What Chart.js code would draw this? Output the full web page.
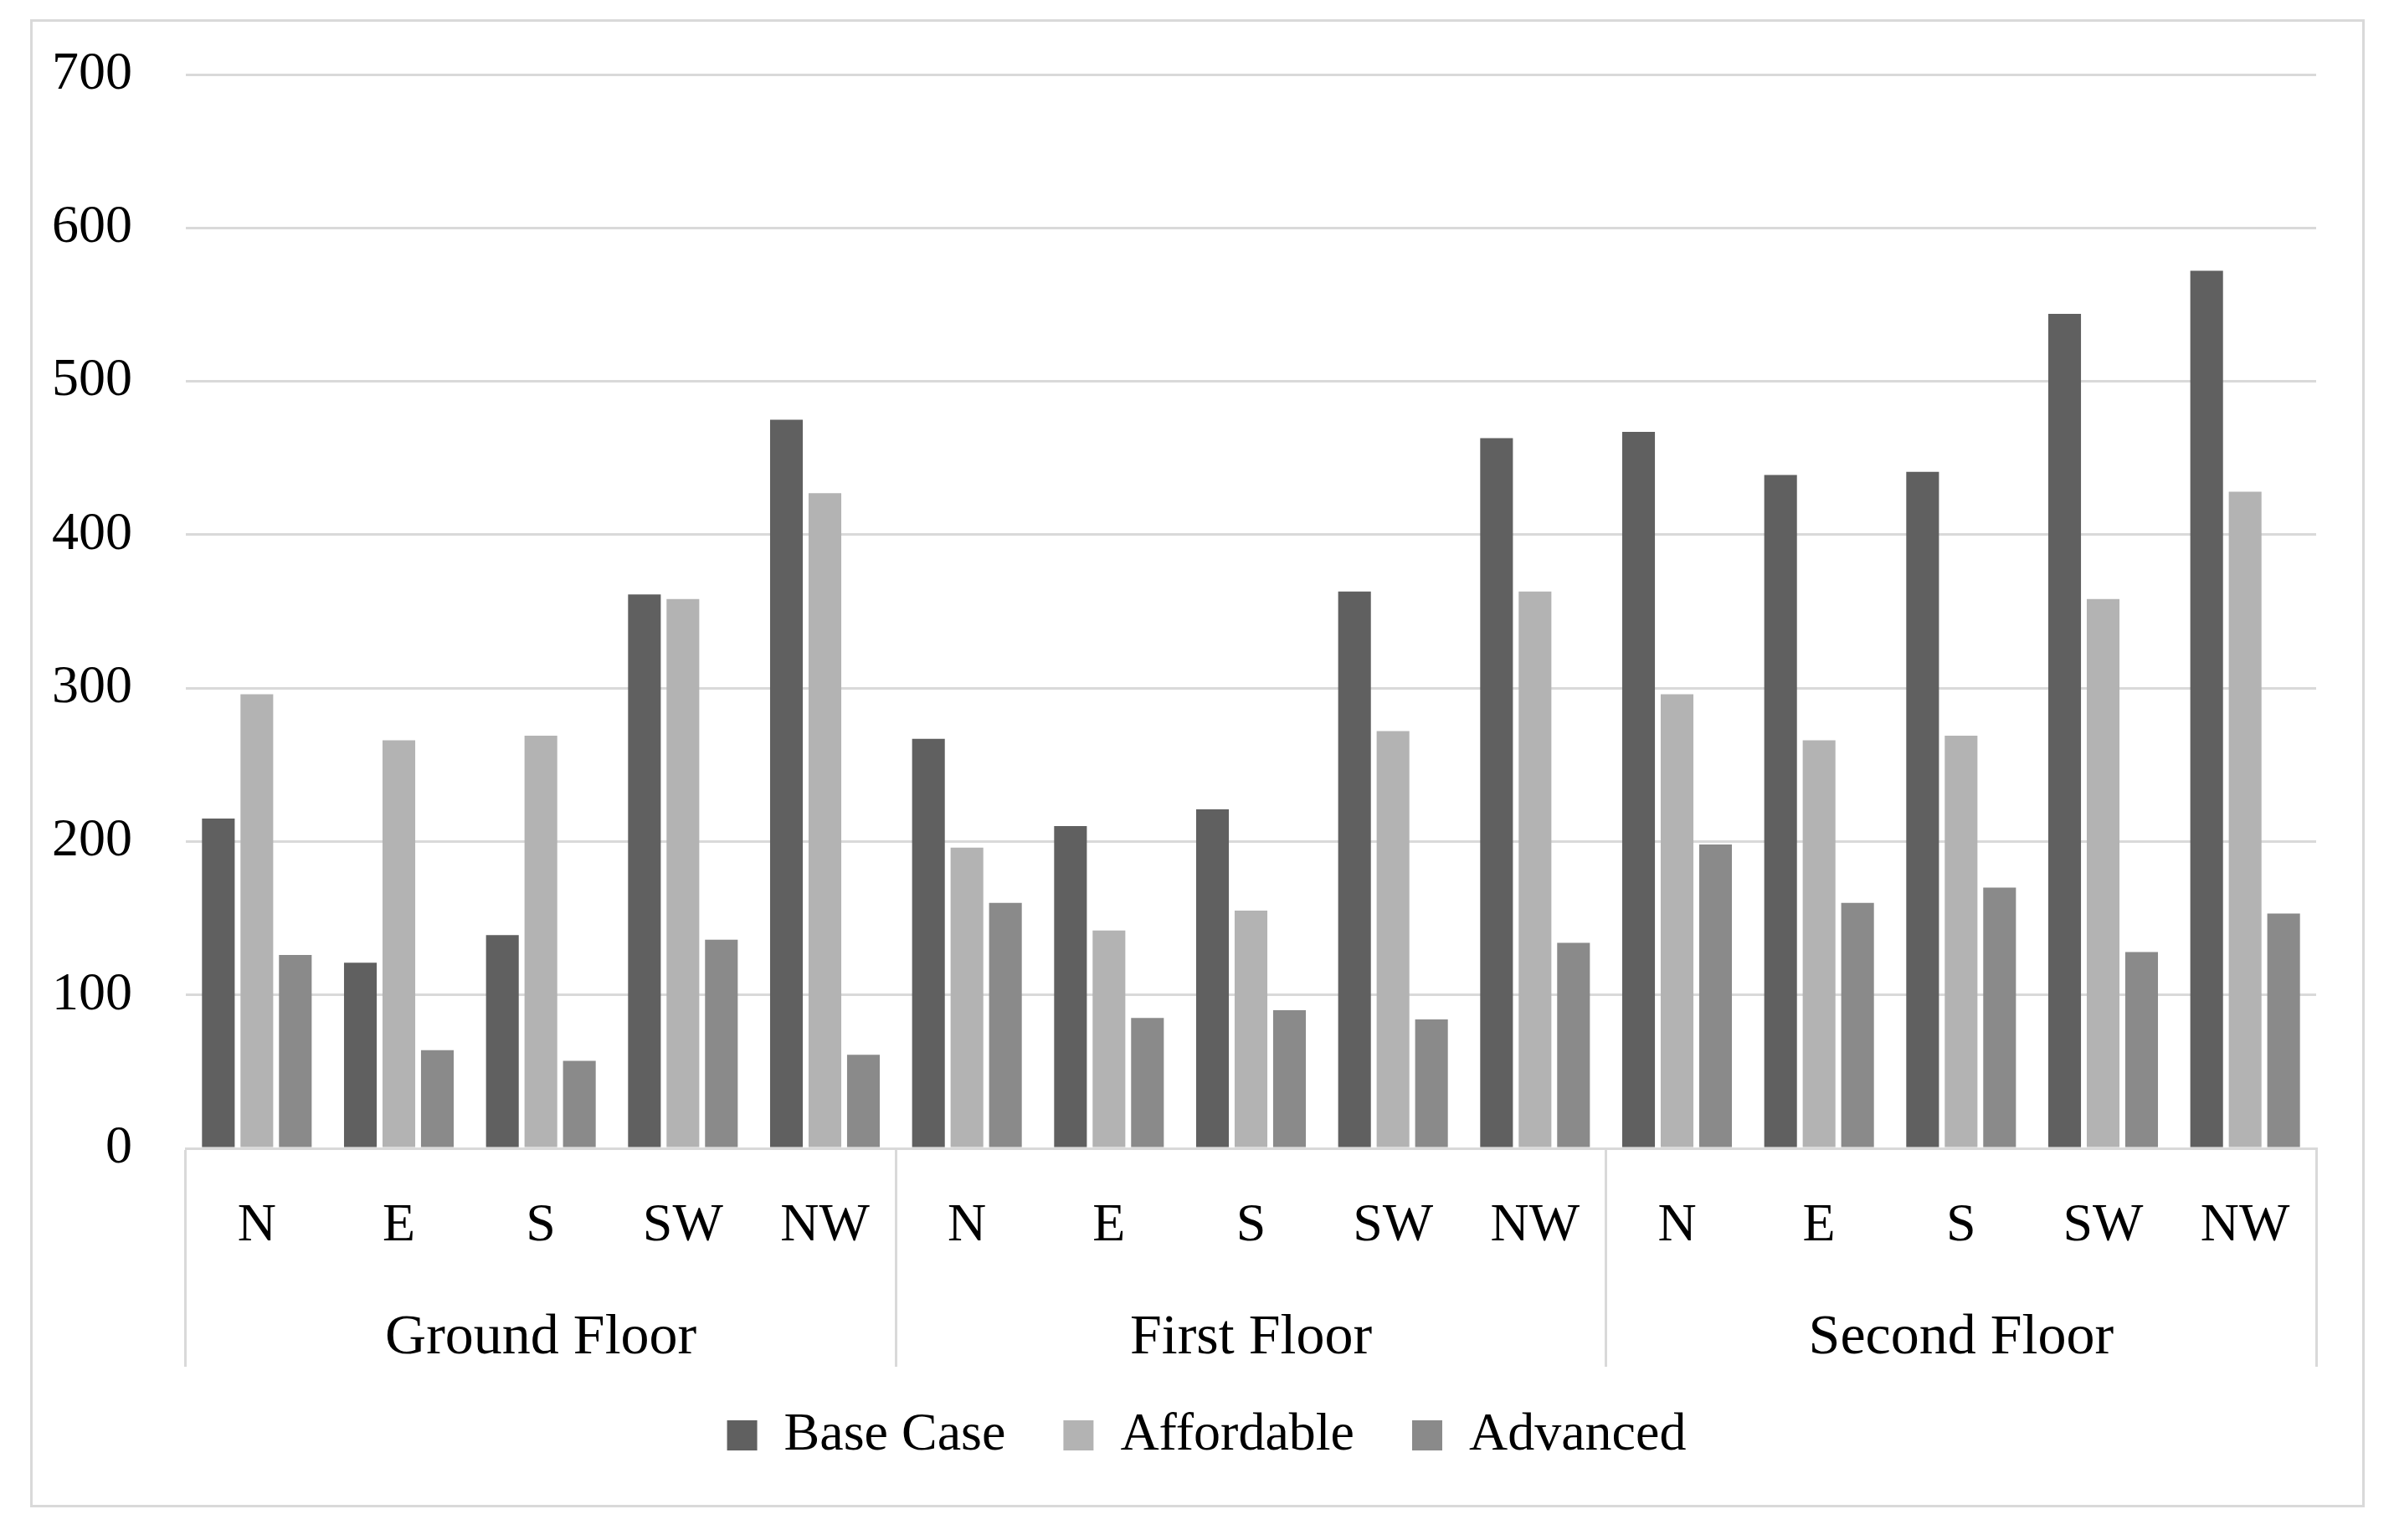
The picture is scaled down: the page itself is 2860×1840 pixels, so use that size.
<!DOCTYPE html>
<html>
<head>
<meta charset="utf-8">
<script src="https://cdn.jsdelivr.net/npm/chart.js@4/dist/chart.umd.min.js"></script>
<style>
  html, body { margin: 0; padding: 0; background: #fff; }
  #wrap { position: relative; width: 2860px; height: 1840px; }
  #frame {
    position: absolute; left: 36px; top: 23px; width: 2789px; height: 1778px;
    border: 3px solid #d9d9d9; box-sizing: border-box; pointer-events: none;
  }
  canvas { position: absolute; left: 0; top: 0; }
</style>
</head>
<body>
<div id="wrap">
  <div id="frame"></div>
  <canvas id="chart"></canvas>
</div>
<script>
  // Values
  const floors = ['Ground Floor', 'First Floor', 'Second Floor'];
  const orientations = ['N', 'E', 'S', 'SW', 'NW'];
  const yTicks = [0, 100, 200, 300, 400, 500, 600, 700];

  const baseCase   = [215, 121, 139, 361, 475,  267, 210, 221, 363, 463,  467, 439, 441, 544, 572];
  const affordable = [296, 266, 269, 358, 427,  196, 142, 155, 272, 363,  296, 266, 269, 358, 428];
  const advanced   = [126,  64,  57, 136,  61,  160,  85,  90,  84, 134,  198, 160, 170, 128, 153];

  const labels = [];
  floors.forEach(() => orientations.forEach(o => labels.push(o)));

  const FONT = 'Liberation Serif, Times New Roman, serif';
  const GRID = '#d9d9d9';
  const SEP_LEN = 261;
  const LEGEND_DX = 38;
  const LEGEND_DY = -10;

  // only every 5th boundary of the orientation axis gets a separator
  const isGroupEdge = ctx => ctx.index === undefined || ctx.index % orientations.length === 0;

  // nudge the legend so it sits where the original has it
  const legendShift = {
    id: 'legendShift',
    afterLayout(chart) {
      const lg = chart.legend;
      if (!lg) return;
      lg.left += LEGEND_DX;
      lg.right += LEGEND_DX;
      lg.top += LEGEND_DY;
      lg.bottom += LEGEND_DY;
    }
  };

  new Chart(document.getElementById('chart'), {
    type: 'bar',
    data: {
      labels: labels,
      datasets: [
        { label: 'Base Case', data: baseCase, backgroundColor: '#606060' },
        { label: 'Affordable', data: affordable, backgroundColor: '#b3b3b3' },
        { label: 'Advanced', data: advanced, backgroundColor: '#8a8a8a' }
      ]
    },
    plugins: [legendShift],
    options: {
      responsive: true,
      maintainAspectRatio: false,
      animation: false,
      layout: { padding: { left: 40, right: 93, top: 89, bottom: 73 } },
      datasets: { bar: { categoryPercentage: 0.813, barPercentage: 0.85 } },
      plugins: {
        tooltip: { enabled: false },
        legend: {
          position: 'bottom',
          labels: {
            font: { family: FONT, size: 64 },
            color: '#000',
            boxWidth: 36,
            boxHeight: 36,
            padding: 69
          }
        }
      },
      scales: {
        x: {
          type: 'category',
          offset: true,
          weight: 0,
          grid: {
            offset: true,
            drawOnChartArea: false,
            drawTicks: true,
            tickLength: SEP_LEN,
            color: ctx => isGroupEdge(ctx) ? GRID : 'rgba(0,0,0,0)',
            lineWidth: ctx => isGroupEdge(ctx) ? 3 : 0
          },
          border: { color: GRID, width: 3 },
          ticks: {
            font: { family: FONT, size: 64 },
            color: '#000',
            padding: 55 - SEP_LEN,
            maxRotation: 0,
            autoSkip: false
          },
          afterFit: s => { s.height = 126; }
        },
        x2: {
          type: 'category',
          labels: floors,
          position: 'bottom',
          offset: true,
          weight: 1,
          grid: { display: false },
          border: { display: false },
          ticks: {
            font: { family: FONT, size: 68 },
            color: '#000',
            padding: 52,
            maxRotation: 0,
            autoSkip: false
          },
          afterFit: s => { s.height = 126; }
        },
        y: {
          min: 0,
          max: 700,
          afterBuildTicks: s => { s.ticks = yTicks.map(v => ({ value: v })); },
          grid: {
            color: GRID,
            lineWidth: 3,
            drawTicks: true,
            tickLength: 64,
            tickColor: 'rgba(0,0,0,0)'
          },
          border: { display: false },
          ticks: {
            font: { family: FONT, size: 64 },
            color: '#000',
            padding: 0
          },
          afterFit: s => { s.width = 182; }
        }
      }
    }
  });
</script>
</body>
</html>
